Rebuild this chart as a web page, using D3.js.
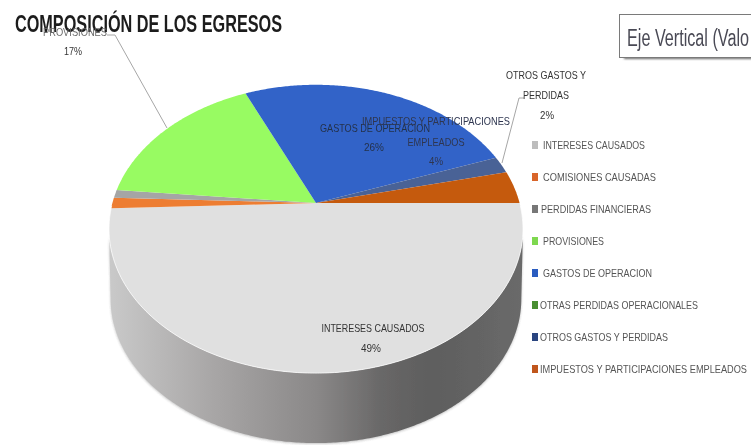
<!DOCTYPE html>
<html><head><meta charset="utf-8">
<script src="https://cdn.jsdelivr.net/npm/d3@7"></script>
<style>html,body{margin:0;padding:0;background:#fff;overflow:hidden}svg{display:block}text{font-family:"Liberation Sans Narrow","Liberation Sans",sans-serif}</style>
</head><body><svg id="c" width="756" height="445"></svg>
<script>
const title = "COMPOSICIÓN DE LOS EGRESOS";
const categories = ["INTERESES CAUSADOS","COMISIONES CAUSADAS","PERDIDAS FINANCIERAS","PROVISIONES","GASTOS DE OPERACION","OTRAS PERDIDAS OPERACIONALES","OTROS GASTOS Y PERDIDAS","IMPUESTOS Y PARTICIPACIONES EMPLEADOS"];
const values = [49.4,1.2,0.9,16.9,26.0,0.0,1.9,3.7];
const colors = ["#e0e0e0","#ed7d31","#a5a5a5","#98fb62","#3264c8","#5a9e3a","#4a6296","#c55a11"];
const legendColors = ["#bdbdbd","#d9652a","#777777","#7ed84f","#2a5cc0","#4a8f33","#2c4480","#c0561a"];

const svg = d3.select("#c");
const defs = svg.append("defs");
const f = defs.append("filter").attr("id","soft").attr("x","-5%").attr("y","-5%").attr("width","110%").attr("height","110%");
f.append("feGaussianBlur").attr("stdDeviation",0.55);
const fs = defs.append("filter").attr("id","softer").attr("x","-10%").attr("y","-10%").attr("width","120%").attr("height","120%");
fs.append("feGaussianBlur").attr("stdDeviation",1.2);
const wg = defs.append("linearGradient").attr("id","wall").attr("gradientUnits","userSpaceOnUse").attr("x1",110).attr("x2",523).attr("y1",0).attr("y2",0);
[[0,"#c9c9c9"],[.25,"#a8a6a6"],[.5,"#8a8888"],[.66,"#686767"],[.78,"#5e5e5e"],[1,"#6a6a6a"]].forEach(s=>wg.append("stop").attr("offset",s[0]).attr("stop-color",s[1]));
defs.append("clipPath").attr("id","box").append("rect").attr("x",600).attr("y",0).attr("width",151).attr("height",80);

// perspective projection of the pie's disc
const cx = 316, cy = 203, R = 203.6, S = 139.5, k = 0.18, depth = 70;
const project = (t, dy=0, sx=1) => {
  const x = Math.cos(t), y = Math.sin(t), w = 1 - k*y;
  return [cx + sx*R*x/w, cy + dy + S*y/w];
};
const line = d3.line();
const sweep = (a,b,dy,sx) => {
  const n = Math.max(2, Math.ceil(Math.abs(b-a)/0.01));
  return d3.range(n+1).map(i => project(a+(b-a)*i/n, dy, sx));
};
const pie = d3.pie().sort(null).value(d=>d).startAngle(0).endAngle(2*Math.PI);
const arcs = pie(values);

const root = svg.append("g");
const chart = root.append("g").attr("filter","url(#soft)");

// side wall
const t0 = Math.asin(k), t1 = Math.PI - t0;
const wallPts = sweep(t0,t1,0,1).concat(sweep(t1,t0,depth,0.992));
chart.append("path").attr("d",line(wallPts)+"Z").attr("fill","#555").attr("opacity",.35).attr("filter","url(#softer)").attr("transform","translate(0,1)");
chart.append("path").attr("d",line(wallPts)+"Z").attr("fill","url(#wall)");

// top face slices
chart.selectAll("path.slice").data(arcs).join("path").attr("class","slice")
  .attr("d",d=> line([[cx,cy]].concat(sweep(d.startAngle,d.endAngle,0,1)))+"Z")
  .attr("fill",(d,i)=>colors[i]);
chart.append("path").attr("d",line(sweep(0.02,Math.PI-0.02,0,1))).attr("fill","none").attr("stroke","#fff").attr("stroke-width",0.9).attr("opacity",.8);

const txt = root.append("g").attr("filter","url(#soft)");
// leader lines
const leader = pts => txt.append("path").attr("d",line(pts)).attr("fill","none").attr("stroke","#a6a6a6").attr("stroke-width",1);
leader([[167,128],[115,35],[107,35]]);
leader([[502,163],[519,98],[524,98]]);

const label = (s,x,y,w,size=11,fill="#333",anchor="middle",weight="normal") => {
  const e = txt.append("text").attr("x",x).attr("y",y).attr("text-anchor",anchor).attr("font-size",size).attr("fill",fill).attr("font-weight",weight).text(s);
  if (w) e.attr("textLength",w).attr("lengthAdjust","spacingAndGlyphs");
  return e;
};
const pct = i => Math.round(values[i])+"%";

// title
label(title,15,32,267,24,"#1c1c1c","start","bold");

// data labels
label(categories[3],75,36,64,10.5,"#6a6a6a");
label(pct(3),73,55,18,10.5);
label(categories[4],375,132,110,11,"#24314a");
label(pct(4),374,151,20,11,"#24314a");
label("IMPUESTOS Y PARTICIPACIONES",436,125,148,11,"#2e3650");
label("EMPLEADOS",436,146,57,11,"#2e3650");
label(pct(7),436,165,14,11,"#2e3650");
label("OTROS GASTOS Y",546,79,80,11);
label("PERDIDAS",546,99,46,11);
label(pct(6),547,119,14,11);
label(categories[0],373,332,103,11);
label(pct(0),371,352,20,11);

// legend
const legY = d3.scalePoint().domain(categories).range([145,369]);
const textX = [543,543,541,543,543,540,540,540];
const textW = [102,113,110,61,109,158,128,207];
categories.forEach((c,i)=>{
  txt.append("rect").attr("x",532).attr("y",legY(c)-4).attr("width",6).attr("height",8).attr("fill",legendColors[i]);
  label(c,textX[i],legY(c)+4,textW[i],11,"#555","start");
});

// stray axis-title box, cut by the picture's edge as in the source
const boxG = root.append("g").attr("clip-path","url(#box)");
boxG.append("rect").attr("x",624).attr("y",20).attr("width",130).attr("height",39).attr("fill","#666").attr("filter","url(#softer)");
boxG.append("rect").attr("x",619.5).attr("y",14.5).attr("width",140).attr("height",43).attr("fill","#fff").attr("stroke","#7a7a7a");
root.append("text").attr("x",627).attr("y",46).attr("font-size",23).attr("fill","#4a4a55").attr("filter","url(#soft)").attr("textLength",122).attr("lengthAdjust","spacingAndGlyphs").text("Eje Vertical (Valo");
</script></body></html>
